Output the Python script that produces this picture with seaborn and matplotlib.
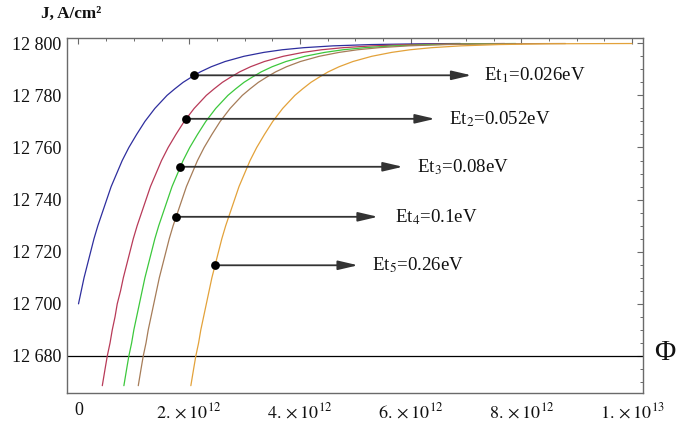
import matplotlib
matplotlib.use("Agg")
import matplotlib.pyplot as plt
import seaborn as sns
import pandas as pd
from matplotlib.ticker import MultipleLocator

# ---------------- data ----------------
# current density levels (A/cm^2) at which the curves were read
J_CURVE = [12668.6, 12675, 12680, 12685, 12690, 12695, 12700, 12705, 12710,
           12715, 12720, 12725, 12730, 12735, 12740, 12745, 12750, 12755,
           12760, 12765, 12770, 12772.5, 12775, 12777.5, 12780, 12782.5,
           12785, 12787, 12789, 12791, 12793, 12795, 12796.5, 12797.5,
           12798.3, 12799, 12799.5, 12799.8, 12799.9]

# fluence Phi, in units of 1e12, for each curve (last entries align with J_CURVE)
PHI_ET1 = [0.00, 0.05, 0.10, 0.16, 0.22, 0.28, 0.35, 0.43, 0.51, 0.59,
           0.69, 0.79, 0.91, 1.05, 1.20, 1.29, 1.38, 1.49, 1.60, 1.74,
           1.89, 2.04, 2.20, 2.40, 2.65, 2.99, 3.35, 3.68, 4.07, 4.60,
           5.29, 6.21, 6.90]
PHI_ET2 = [0.43, 0.48, 0.52, 0.57, 0.61, 0.66, 0.70, 0.76, 0.81, 0.87,
           0.93, 0.99, 1.06, 1.14, 1.22, 1.30, 1.40, 1.50, 1.62, 1.76,
           1.91, 2.00, 2.09, 2.20, 2.31, 2.45, 2.60, 2.75, 2.91, 3.11,
           3.36, 3.70, 4.06, 4.39, 4.78, 5.31, 6.00, 6.92, 7.70]
PHI_ET3 = [0.82, 0.87, 0.91, 0.96, 1.00, 1.05, 1.10, 1.15, 1.20, 1.26,
           1.32, 1.38, 1.45, 1.53, 1.61, 1.69, 1.79, 1.89, 2.01, 2.15,
           2.30, 2.39, 2.48, 2.59, 2.70, 2.84, 2.99, 3.14, 3.30, 3.50,
           3.75, 4.09, 4.45, 4.78, 5.17, 5.70, 6.39, 7.31, 7.90]
PHI_ET4 = [1.08, 1.13, 1.17, 1.22, 1.26, 1.31, 1.36, 1.41, 1.46, 1.52,
           1.58, 1.64, 1.71, 1.79, 1.87, 1.95, 2.05, 2.15, 2.27, 2.41,
           2.56, 2.65, 2.74, 2.85, 2.96, 3.10, 3.25, 3.40, 3.56, 3.76,
           4.01, 4.35, 4.71, 5.04, 5.43, 5.96, 6.65, 7.57, 8.80]
PHI_ET5 = [2.03, 2.08, 2.12, 2.17, 2.21, 2.26, 2.31, 2.36, 2.41, 2.47,
           2.53, 2.59, 2.66, 2.74, 2.82, 2.90, 3.00, 3.10, 3.22, 3.36,
           3.51, 3.60, 3.69, 3.80, 3.91, 4.05, 4.20, 4.35, 4.51, 4.71,
           4.96, 5.30, 5.66, 5.99, 6.38, 6.91, 7.60, 8.52, 10.00]

CURVE_NAMES = ["Et1", "Et2", "Et3", "Et4", "Et5"]
CURVE_COLORS = ["#2e2e9e", "#b83a58", "#3cc83c", "#a67c58", "#e3a23a"]

# marked points and arrow annotations
DOT_PHI = [2.09, 1.94, 1.84, 1.76, 2.46]
DOT_J = [12787.7, 12771.0, 12752.6, 12733.4, 12714.8]
ARROW_END_PHI = [7.10, 6.44, 5.86, 5.41, 5.05]
LABEL_PHI = [7.33, 6.70, 6.12, 5.71, 5.31]
LABELS = ["Et$_1$=0.026eV", "Et$_2$=0.052eV", "Et$_3$=0.08eV",
          "Et$_4$=0.1eV", "Et$_5$=0.26eV"]

X_TICKS = [0, 2, 4, 6, 8, 10]
X_TICK_LABELS = ["0", r"$2.\times10^{12}$", r"$4.\times10^{12}$",
                 r"$6.\times10^{12}$", r"$8.\times10^{12}$", r"$1.\times10^{13}$"]
Y_TICKS = [12680, 12700, 12720, 12740, 12760, 12780, 12800]
Y_TICK_LABELS = ["12 680", "12 700", "12 720", "12 740", "12 760", "12 780", "12 800"]
BASE_J = 12680
SCALE = 1e12

# ---------------- build table ----------------
rows = []
for name, phis in zip(CURVE_NAMES, [PHI_ET1, PHI_ET2, PHI_ET3, PHI_ET4, PHI_ET5]):
    js = J_CURVE[len(J_CURVE) - len(phis):]
    for p, j in zip(phis, js):
        rows.append({"phi": p * SCALE, "J": j, "curve": name})
df = pd.DataFrame(rows)
dots = pd.DataFrame({"phi": [p * SCALE for p in DOT_PHI], "J": DOT_J})

# ---------------- style ----------------
sns.set_theme(style="white")
plt.rcParams["font.family"] = ["Liberation Serif", "DejaVu Serif"]
plt.rcParams["mathtext.fontset"] = "stix"

fig = plt.figure(figsize=(6.8, 4.23), dpi=100)
ax = fig.add_axes([0.0981, 0.0716, 0.8475, 0.8397])

ax.axhline(BASE_J, color="black", lw=0.9, zorder=1)

sns.lineplot(data=df, x="phi", y="J", hue="curve", hue_order=CURVE_NAMES,
             palette=dict(zip(CURVE_NAMES, CURVE_COLORS)), legend=False,
             sort=False, estimator=None, linewidth=0.9, ax=ax, zorder=2)

for p, j, pe, pl, lab in zip(DOT_PHI, DOT_J, ARROW_END_PHI, LABEL_PHI, LABELS):
    ax.annotate("", xy=(pe * SCALE, j), xytext=(p * SCALE, j),
                arrowprops=dict(arrowstyle="-|>,head_length=0.6,head_width=0.14",
                                mutation_scale=20, color="#333333", lw=1.3,
                                shrinkA=0, shrinkB=0), zorder=3)
    ax.text(pl * SCALE, j, lab, fontsize=13.6, ha="left", va="center",
            color="#111111")

sns.scatterplot(data=dots, x="phi", y="J", color="black", s=40,
                edgecolor="black", linewidth=0, ax=ax, zorder=4)

ax.set_xlim(-0.213 * SCALE, 10.2 * SCALE)
ax.set_ylim(12665.9, 12802.2)
ax.set_xticks([t * SCALE for t in X_TICKS])
ax.set_xticklabels(X_TICK_LABELS)
ax.set_yticks(Y_TICKS)
ax.set_yticklabels(Y_TICK_LABELS)
ax.xaxis.set_minor_locator(MultipleLocator(0.5 * SCALE))
ax.yaxis.set_minor_locator(MultipleLocator(5))
ax.set_xlabel("")
ax.set_ylabel("")

for s in ax.spines.values():
    s.set_color("#6a6a6a")
    s.set_linewidth(1.0)
ax.tick_params(axis="both", which="major", direction="in", length=4.5,
               width=0.8, color="#6a6a6a", top=True, right=True,
               labelsize=13, labelcolor="#111111")
ax.tick_params(axis="both", which="minor", direction="in", length=2.5,
               width=0.7, color="#6a6a6a", top=True, right=True)
ax.tick_params(axis="x", which="major", pad=7)
ax.tick_params(axis="y", which="major", pad=4)

fig.text(41 / 680, 1 - 14 / 423, "J, A/cm²", fontsize=12.3, fontweight="bold",
         ha="left", va="center", color="#111111")
fig.text(665 / 680, 1 - 353 / 423, "Φ", fontsize=21, ha="center", va="center",
         color="#111111")

fig.savefig("out.png", dpi=100)
